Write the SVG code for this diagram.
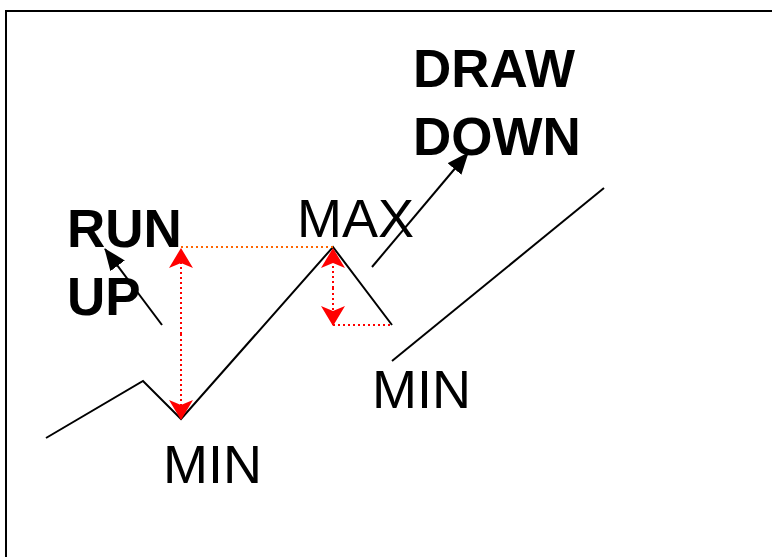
<svg xmlns="http://www.w3.org/2000/svg" width="772" height="557" viewBox="0 0 772 557">
<style>
.t{font-family:"Liberation Sans",Arial,sans-serif;font-size:54px;fill:#000}
.b{font-weight:bold;font-size:53px}
.ln{stroke:#000;stroke-width:2;fill:none}
.rd{stroke:#f00;stroke-width:2;stroke-dasharray:2 3;fill:none}
.or{stroke:#f60;stroke-width:2;stroke-dasharray:2 3;fill:none}
</style>
<defs>
<marker id="ra" viewBox="0 0 20 24" refX="19" refY="12" markerWidth="20" markerHeight="24" orient="auto" markerUnits="userSpaceOnUse">
<path d="M0,0 L20,12 L0,24 L5,12 Z" fill="#f00"/>
</marker>
<marker id="ba" viewBox="0 0 22 18" refX="21" refY="9" markerWidth="22" markerHeight="18" orient="auto" markerUnits="userSpaceOnUse">
<path d="M0,0 L22,9 L0,18 Z" fill="#000"/>
</marker>
</defs>
<rect x="6" y="11" width="800" height="600" fill="#fff" stroke="#000" stroke-width="2"/>
<g id="connectors">
<polyline class="ln" points="46,438 143,381 181,419 333,247 392,325"/>
<line class="ln" x1="392" y1="361" x2="604" y2="188"/>
<line class="or" x1="181" y1="247" x2="333" y2="247"/>
<line class="rd" x1="333" y1="325" x2="392" y2="325"/>
<line class="rd" x1="181" y1="334" x2="181" y2="249" marker-end="url(#ra)"/>
<line class="rd" x1="181" y1="334" x2="181" y2="419" marker-end="url(#ra)"/>
<line class="rd" x1="333" y1="288" x2="333" y2="249" marker-end="url(#ra)"/>
<line class="rd" x1="333" y1="288" x2="333" y2="325" marker-end="url(#ra)"/>
<line class="ln" x1="162" y1="325" x2="105" y2="249" marker-end="url(#ba)"/>
<line class="ln" x1="372" y1="267" x2="468" y2="153" marker-end="url(#ba)"/>
</g>
<g id="run-up"><text class="t b" x="67" y="247">RUN</text><text class="t b" x="67" y="315">UP</text></g>
<g id="draw-down"><text class="t b" x="413" y="87">DRAW</text><text class="t b" x="413" y="155">DOWN</text></g>
<g id="max"><text class="t" x="297" y="237">MAX</text></g>
<g id="min1"><text class="t" x="163" y="483">MIN</text></g>
<g id="min2"><text class="t" x="372" y="408">MIN</text></g>
</svg>
